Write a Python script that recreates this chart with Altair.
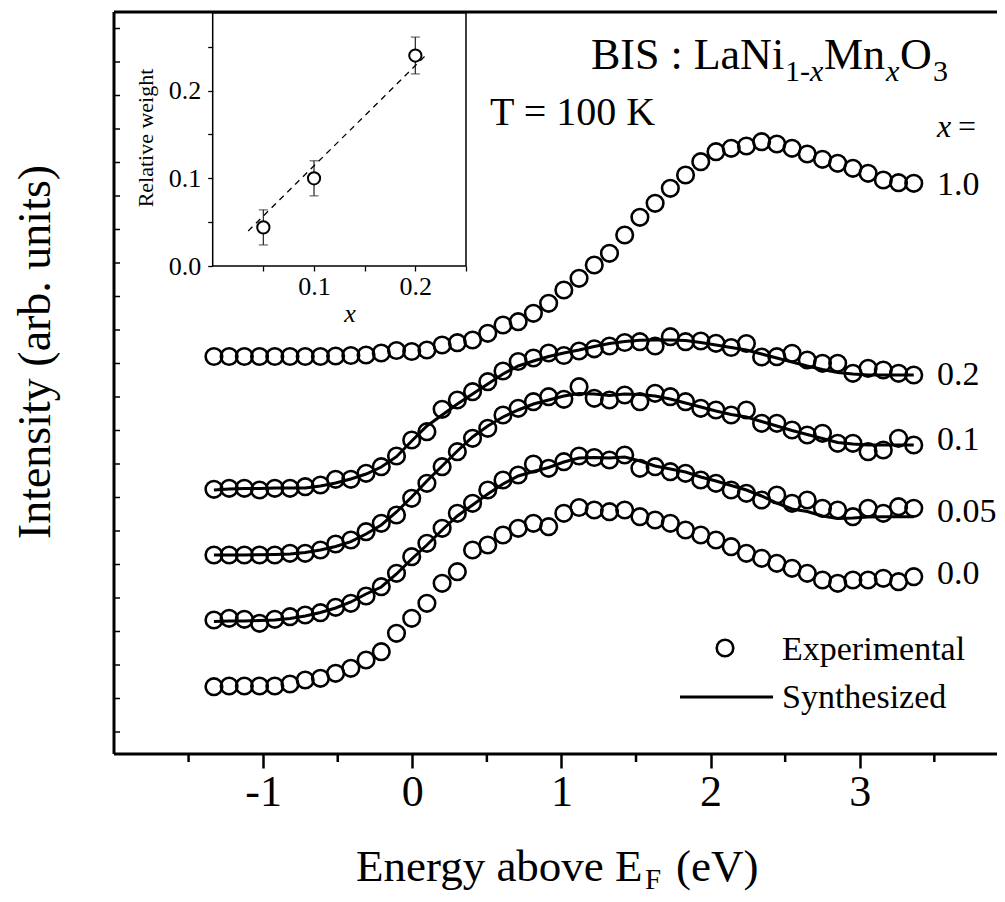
import altair as alt
import pandas as pd

# ---------------- data ----------------
energy = [-1.330, -1.228, -1.126, -1.024, -0.922, -0.820, -0.718, -0.616, -0.514, -0.412,
          -0.310, -0.208, -0.106, -0.004, 0.098, 0.200, 0.302, 0.404, 0.506, 0.608,
          0.710, 0.812, 0.914, 1.016, 1.118, 1.220, 1.322, 1.424, 1.526, 1.628,
          1.730, 1.832, 1.934, 2.036, 2.138, 2.240, 2.342, 2.444, 2.546, 2.648,
          2.750, 2.852, 2.954, 3.056, 3.158, 3.260, 3.362]

exp_10 = [397.5, 397.5, 397.5, 397.5, 397.5, 397.5, 397.5, 397.5, 398, 398.5,
          399, 401, 403.5, 402.5, 404, 409, 411.3, 414, 420.7, 429,
          432.3, 440.7, 450.7, 464, 475.7, 489, 500.7, 519, 536.7, 550.7,
          565.7, 579, 592.3, 602.3, 605.7, 608, 612.3, 610, 605.7, 600,
          594.7, 590.7, 585.7, 580.7, 574, 571.3, 570.7]
exp_02 = [264.7, 265.7, 265.7, 264, 265.7, 265.7, 267.3, 269, 274.7, 274.7,
          280.7, 287.3, 298, 314, 322.3, 344.7, 354, 362.3, 372.3, 383,
          392.5, 396, 401, 398.5, 403, 405.2, 408, 411.5, 412.3, 408,
          417.3, 412.3, 413, 410.7, 406.5, 410.5, 397, 397.3, 400.7, 394,
          390.7, 390.7, 380.7, 385.7, 384, 380.7, 379]
exp_01 = [199, 199, 199, 199, 199, 200.7, 200.7, 204, 210, 214,
          222.3, 230.7, 239, 255.7, 270.7, 287.3, 302.3, 315.7, 325.7, 339,
          345.7, 352.3, 357.3, 354.7, 367.3, 355.7, 354, 359, 352.3, 360.7,
          357.3, 352.3, 345.7, 344, 339, 344, 330.7, 330.7, 324, 319,
          320.7, 310.7, 310.7, 302.3, 304, 315.7, 309]
exp_005 = [134, 135.7, 134.7, 130.7, 134.7, 137.3, 139, 141.3, 146.7, 150.7,
           158, 167.3, 180.7, 197.3, 210.7, 225.7, 240.7, 250.7, 264, 274,
           279, 290, 285.7, 292.3, 298, 296.5, 294, 299, 285.7, 287.3,
           282.3, 280.7, 274, 270.7, 264, 260.7, 254, 259, 250.7, 254,
           245.7, 244, 237.3, 245.7, 240.7, 247.3, 245.7]
exp_00 = [67.3, 68, 68, 68, 68, 70, 74, 75.7, 80.7, 85.7,
          94, 102.3, 120.7, 135.7, 150.7, 170.7, 182.3, 204, 209, 219,
          225.7, 230.7, 227.3, 240.7, 246.5, 244, 242.3, 244, 237.3, 234,
          230.7, 224, 219, 214, 207.3, 200.7, 195.7, 190.7, 185.7, 180.7,
          174, 170.7, 174, 174, 175.7, 172.3, 177.3]

fit_02 = [264, 265, 265.5, 265.5, 266, 266, 266, 268, 271, 275,
          280, 287, 297.3, 313, 328, 339, 350, 360, 370, 380,
          388, 393, 397.5, 401, 404, 407.5, 410.5, 412.5, 413.7, 414,
          414, 413.5, 411.5, 409, 406.5, 404, 400, 396, 392, 388,
          384.5, 381.5, 380, 379, 379, 379, 379]
fit_01 = [199, 199, 199, 199.2, 199.5, 200, 201.5, 204, 207.5, 212.3,
          220, 229, 242, 257, 273, 288, 303, 317, 328, 337,
          344, 350, 354, 358, 360.5, 360, 358.5, 360, 359.5, 358,
          355, 351, 347, 343, 339.5, 337, 332.5, 328, 323.5, 319.5,
          315.5, 311.5, 310, 309, 309, 309, 309]
fit_005 = [132.5, 133, 133, 133.5, 134, 135.5, 138, 141.5, 146, 152,
           160, 167, 180, 195, 209, 224, 238, 249, 260, 270,
           278, 282.5, 286.5, 292, 296, 296.5, 296, 297, 293, 288,
           285, 282, 277, 273, 268.5, 264, 258, 251, 245, 242.5,
           238, 235.5, 236, 237, 237.3, 237.3, 237.3]

inset_x = [0.05, 0.10, 0.20]
inset_w = [0.044, 0.100, 0.240]
inset_err = [0.020, 0.020, 0.021]
trend_x = [0.035, 0.211]
trend_w = [0.040, 0.241]

x_major = [-1, 0, 1, 2, 3]
x_minor = [-1.5, -0.5, 0.5, 1.5, 2.5, 3.5]
y_ticks = [22 + 33.5 * k for k in range(22)]

# ---------------- tables ----------------
exp_series = {"1.0": exp_10, "0.2": exp_02, "0.1": exp_01, "0.05": exp_005, "0.0": exp_00}
fit_series = {"0.2": fit_02, "0.1": fit_01, "0.05": fit_005}
exp_df = pd.DataFrame([{"E": e, "I": v, "s": k} for k, vals in exp_series.items() for e, v in zip(energy, vals)])
fit_df = pd.DataFrame([{"E": e, "I": v, "s": k} for k, vals in fit_series.items() for e, v in zip(energy, vals)])
inset_df = pd.DataFrame({"x": inset_x, "w": inset_w, "err": inset_err})
inset_df["lo"] = inset_df["w"] - inset_df["err"]
inset_df["hi"] = inset_df["w"] + inset_df["err"]
trend_df = pd.DataFrame({"x": trend_x, "w": trend_w})

SERIF = "Liberation Serif, Times New Roman, serif"
W, H = 883, 742
OX, OY = 114, 12  # page position of plot origin

xs = alt.Scale(domain=[-2, -2 + W / 149.15], nice=False, zero=False)
ys = alt.Scale(domain=[0, 742], nice=False, zero=False)
xaxis = alt.Axis(values=x_major, labelExpr="toString(datum.value)", tickSize=14, tickWidth=2.5,
                 tickColor="black", domain=False, grid=False, labelFont=SERIF, labelFontSize=44,
                 labelColor="black", labelPadding=2, title=None)


def txt(s, x, y, size, italic=False, align="left", angle=0, baseline="alphabetic"):
    return alt.Chart(pd.DataFrame({"s": [s]})).mark_text(
        align=align, baseline=baseline, font=SERIF, fontSize=size,
        fontStyle="italic" if italic else "normal", angle=angle, color="black"
    ).encode(x=alt.value(x - OX), y=alt.value(y - OY), text="s:N")


def frame_rule(x1, y1, x2, y2, w):
    return alt.Chart(pd.DataFrame({"a": [0]})).mark_rule(color="black", strokeWidth=w).encode(
        x=alt.value(x1), y=alt.value(y1), x2=alt.value(x2), y2=alt.value(y2))


PT_SIZE = 275
circles = alt.Chart(exp_df).mark_point(shape="circle", filled=False, size=PT_SIZE, strokeWidth=2.6,
                                       color="black", opacity=1).encode(
    x=alt.X("E:Q", scale=xs, axis=xaxis),
    y=alt.Y("I:Q", scale=ys, axis=None),
    detail="s:N")

lines = alt.Chart(fit_df).mark_line(color="black", strokeWidth=3).encode(
    x=alt.X("E:Q", scale=xs, axis=xaxis),
    y=alt.Y("I:Q", scale=ys, axis=None),
    detail="s:N")

minor = alt.Chart(pd.DataFrame({"t": x_minor})).mark_rule(color="black", strokeWidth=2.5).encode(
    x=alt.X("t:Q", scale=xs, axis=xaxis), y=alt.value(H), y2=alt.value(H + 8))

yt = alt.Chart(pd.DataFrame({"v": y_ticks})).mark_rule(color="black", strokeWidth=1.5).encode(
    y=alt.Y("v:Q", scale=ys, axis=None), x=alt.value(0), x2=alt.value(6))

legend_pt = alt.Chart(pd.DataFrame({"a": [0]})).mark_point(shape="circle", filled=False, size=PT_SIZE,
                                                             strokeWidth=2.6, color="black", opacity=1).encode(
    x=alt.value(725 - OX), y=alt.value(648 - OY))
legend_ln = alt.Chart(pd.DataFrame({"a": [0]})).mark_rule(color="black", strokeWidth=3).encode(
    x=alt.value(680 - OX), x2=alt.value(773 - OX), y=alt.value(697 - OY))

texts = [
    txt("BIS : LaNi", 591, 69, 44),
    txt("1-", 785, 81, 30),
    txt("x", 810, 81, 30, italic=True),
    txt("Mn", 824, 69, 44),
    txt("x", 886, 81, 30, italic=True),
    txt("O", 900, 69, 44),
    txt("3", 933, 81, 30),
    txt("T = 100 K", 490, 125, 40),
    txt("x", 937, 137, 32, italic=True),
    txt("=", 958, 137, 32),
    txt("1.0", 937, 195, 34),
    txt("0.2", 937, 385, 34),
    txt("0.1", 937, 450, 34),
    txt("0.05", 937, 522, 34),
    txt("0.0", 937, 584, 34),
    txt("Experimental", 782, 660, 34),
    txt("Synthesized", 782, 708, 34),
    txt("Intensity (arb. units)", 36, 352, 46, align="center", angle=270, baseline="middle"),
    txt("Energy above E", 356, 881, 45),
    txt("F", 645, 889, 29),
    txt("(eV)", 676, 881, 45),
    txt("x", 350, 322, 26, italic=True, align="center"),
    txt("Relative weight", 146, 138, 22, align="center", angle=270, baseline="middle"),
]

frames = [
    frame_rule(0, 0, W, 0, 3),      # top
    frame_rule(0, 0, 0, H, 3),      # left
    frame_rule(0, H, W, H, 3),      # bottom
]

frame_inset = alt.Chart(pd.DataFrame({"a": [0]})).mark_rect(filled=False, stroke="black", strokeWidth=1.5).encode(
    x=alt.value(98.7), x2=alt.value(352), y=alt.value(0.7), y2=alt.value(254))

main = alt.layer(circles, lines, minor, yt, legend_pt, legend_ln, frame_inset, *frames, *texts)

# ---------------- inset ----------------
ixs = alt.Scale(domain=[0, 0.25], range=[98.7, 352], nice=False, zero=False)
iys = alt.Scale(domain=[0, 0.2888], range=[254, 0.7], nice=False, zero=False)
ixaxis = alt.Axis(orient="bottom", offset=-(H - 254), values=[0.05, 0.1, 0.15, 0.2, 0.25],
                  labelExpr="(datum.value == 0.1 || datum.value == 0.2) ? format(datum.value, '.1f') : ''",
                  tickSize=5, tickWidth=1.3, tickColor="black", domain=False, grid=False,
                  labelFont=SERIF, labelFontSize=26, labelColor="black", labelPadding=2, title=None)
iyaxis = alt.Axis(orient="left", offset=-98.7, values=[0, 0.05, 0.1, 0.15, 0.2, 0.25],
                  labelExpr="(datum.value == 0 || datum.value == 0.1 || datum.value == 0.2) ? format(datum.value, '.1f') : ''",
                  tickSize=5, tickWidth=1.3, tickColor="black", domain=False, grid=False,
                  labelFont=SERIF, labelFontSize=26, labelColor="black", labelPadding=7, title=None)

ierr = alt.Chart(inset_df).mark_rule(color="#333333", strokeWidth=1.3).encode(
    x=alt.X("x:Q", scale=ixs, axis=ixaxis), y=alt.Y("lo:Q", scale=iys, axis=iyaxis), y2="hi:Q")
icap_lo = alt.Chart(inset_df).mark_tick(orient="horizontal", size=9, thickness=1.3, color="#333333").encode(
    x=alt.X("x:Q", scale=ixs, axis=ixaxis), y=alt.Y("lo:Q", scale=iys, axis=iyaxis))
icap_hi = alt.Chart(inset_df).mark_tick(orient="horizontal", size=9, thickness=1.3, color="#333333").encode(
    x=alt.X("x:Q", scale=ixs, axis=ixaxis), y=alt.Y("hi:Q", scale=iys, axis=iyaxis))
itrend = alt.Chart(trend_df).mark_line(color="black", strokeWidth=1.3, strokeDash=[6, 5]).encode(
    x=alt.X("x:Q", scale=ixs, axis=ixaxis), y=alt.Y("w:Q", scale=iys, axis=iyaxis))
ipts = alt.Chart(inset_df).mark_point(shape="circle", filled=True, fill="white", stroke="black",
                                      strokeWidth=2, size=150, opacity=1).encode(
    x=alt.X("x:Q", scale=ixs, axis=ixaxis), y=alt.Y("w:Q", scale=iys, axis=iyaxis))

inset = alt.layer(ierr, icap_lo, icap_hi, itrend, ipts)

chart = alt.layer(main, inset).resolve_scale(x="independent", y="independent").properties(
    width=W, height=H,
    padding={"left": 106, "top": 4, "right": 0, "bottom": 140},
    autosize=alt.AutoSizeParams(type="none"),
    background="white",
).configure_view(strokeWidth=0)

chart.save("out.html", embed_options={"renderer": "svg", "actions": False})
